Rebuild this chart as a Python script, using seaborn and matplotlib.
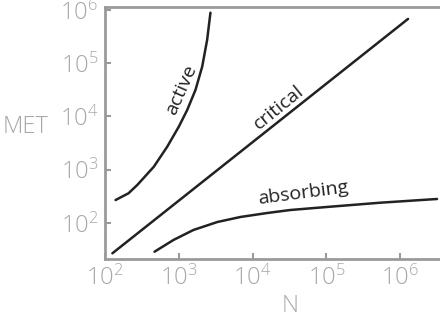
import numpy as np
import pandas as pd
import seaborn as sns
import matplotlib.pyplot as plt

# values (log-log axes)
active_n = [139, 208, 274, 459, 697, 1000, 1300, 1683, 2075, 2421, 2685]
active_met = [270, 361, 518, 1140, 2710, 6430, 13240, 31500, 86100, 273500, 889000]

critical_n = [126, 1280000]
critical_met = [27, 680000]

absorbing_n = [469, 847, 1581, 3342, 6839, 15850, 32430, 113000, 536000, 3162000]
absorbing_met = [28.9, 48.0, 74.0, 104.5, 129.7, 154.2, 175.4, 202.3, 240.4, 282.5]

line_col = '#222222'
axis_col = '#9a9a9a'
text_col = '#a8a8a8'

sns.set_style('ticks')
plt.rcParams['font.family'] = ['Open Sans', 'DejaVu Sans']
plt.rcParams['font.weight'] = 'light'
plt.rcParams['mathtext.fontset'] = 'custom'
plt.rcParams['mathtext.rm'] = 'Open Sans:light'

fig = plt.figure(figsize=(4.4, 3.25), dpi=100)
ax = fig.add_axes([105 / 440, 66 / 325, 335 / 440, 252 / 325])

for n, met in [(active_n, active_met), (critical_n, critical_met), (absorbing_n, absorbing_met)]:
    df = pd.DataFrame({'N': n, 'MET': met})
    sns.lineplot(data=df, x='N', y='MET', color=line_col, linewidth=1.8, sort=False, ax=ax)

ax.set_xscale('log')
ax.set_yscale('log')
ax.set_xlim(10 ** 2.01, 10 ** 6.54)
ax.set_ylim(10 ** 1.324, 10 ** 6.056)
ax.minorticks_off()
ax.set_xticks([1e2, 1e3, 1e4, 1e5, 1e6])
ax.set_yticks([1e2, 1e3, 1e4, 1e5, 1e6])

for side in ['left', 'bottom', 'top']:
    ax.spines[side].set_color(axis_col)
    ax.spines[side].set_linewidth(2)
ax.spines['right'].set_visible(False)
ax.tick_params(direction='in', length=4, width=1.5, color=axis_col,
               labelcolor=text_col, labelsize=17, pad=5)

ax.set_xlabel('N', fontsize=17, color=text_col, fontweight='light', va='center')
ax.set_ylabel('MET', fontsize=17, color=text_col, fontweight='light',
              rotation=0, ha='right', va='center')
ax.xaxis.set_label_coords(0.552, -0.185)
ax.yaxis.set_label_coords(-0.17, 0.524)

ax.text(1090, 31500, 'active', rotation=66, fontsize=14, color=line_col,
        fontweight='normal', ha='center', va='center', rotation_mode='anchor')
ax.text(22400, 14500, 'critical', rotation=39, fontsize=14, color=line_col,
        fontweight='normal', ha='center', va='center', rotation_mode='anchor')
ax.text(48700, 366, 'absorbing', rotation=7.5, fontsize=14, color=line_col,
        fontweight='normal', ha='center', va='center', rotation_mode='anchor')

fig.savefig('out.png', dpi=100)
